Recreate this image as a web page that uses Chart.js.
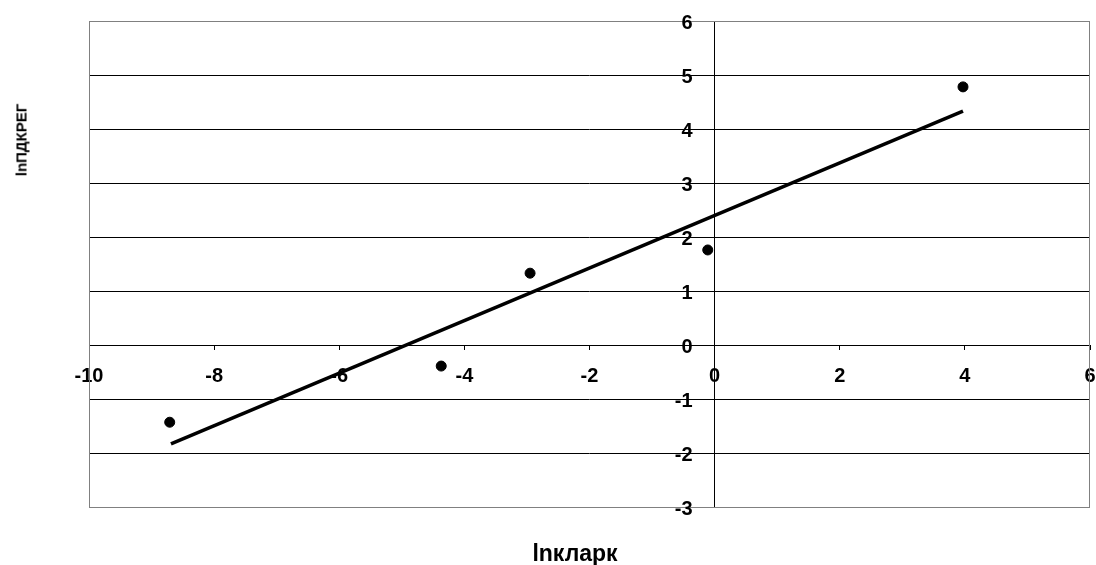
<!DOCTYPE html>
<html>
<head>
<meta charset="utf-8">
<script src="https://cdn.jsdelivr.net/npm/chart.js@4/dist/chart.umd.min.js"></script>
<style>
  body { margin: 0; background: #fff; }
  #wrap { position: relative; width: 1096px; height: 565px; }
  .ttl { position: absolute; font-family: "Liberation Sans", Arial, sans-serif; font-weight: bold; color: #000; white-space: nowrap; line-height: 1; }
  #xTitle { font-size: 23px; left: 575px; top: 553px; transform: translate(-50%, -50%); }
  #yTitle { font-size: 15px; left: 21px; top: 140px; transform: translate(-50%, -50%) rotate(-90deg); }
</style>
</head>
<body>
<div id="wrap">
  <canvas id="scaleChart"></canvas>
  <div class="ttl" id="xTitle">lnкларк</div>
  <div class="ttl" id="yTitle">lnПДКРЕГ</div>
</div>
<script>
// observed points
const xVals = [-8.71, -4.37, -2.95, -0.11, 3.97];
const yVals = [-1.43, -0.39, 1.33, 1.76, 4.78];
// trend line ends
const trendX = [-8.69, 3.97];
const trendY = [-1.83, 4.33];
// axis ticks
const xTicks = [-10, -8, -6, -4, -2, 0, 2, 4, 6];
const yTicks = [-3, -2, -1, 0, 1, 2, 3, 4, 5, 6];

const tickFont = { family: '"Liberation Sans", Arial, sans-serif', size: 20, weight: 'bold' };

// no extra room for overflowing labels
function noPad(s) { s.paddingLeft = 0; s.paddingRight = 0; s.paddingTop = 0; s.paddingBottom = 0; }

// plot area frame + y labels beside the crossing axis
const frame = {
  id: 'frame',
  beforeDatasetsDraw(chart) {
    const a = chart.chartArea, c = chart.ctx;
    c.save();
    c.strokeStyle = '#808080';
    c.lineWidth = 1;
    c.strokeRect(Math.round(a.left) + 0.5, Math.round(a.top) + 0.5,
                 Math.round(a.right - a.left) - 1, Math.round(a.bottom - a.top));
    const ax = chart.scales.x.getPixelForValue(0);
    c.fillStyle = '#000';
    c.font = 'bold ' + tickFont.size + 'px ' + tickFont.family;
    c.textAlign = 'right';
    c.textBaseline = 'middle';
    yTicks.forEach(v => {
      c.fillText(String(v), ax - 22, chart.scales.y.getPixelForValue(v) + 2);
    });
    c.restore();
  }
};

function setupChart() {
  let ctx = document.getElementById('scaleChart');
  return new Chart(ctx, {
    type: 'scatter',
    data: {
      datasets: [{
        label: 'points',
        data: xVals.map((x, i) => ({ x: x, y: yVals[i] })),
        backgroundColor: '#000',
        borderColor: '#000',
        pointRadius: 5,
        order: 1
      }, {
        label: 'trend',
        type: 'line',
        data: trendX.map((x, i) => ({ x: x, y: trendY[i] })),
        borderColor: '#000',
        borderWidth: 3.5,
        pointRadius: 0,
        fill: false,
        order: 2
      }]
    },
    options: {
      responsive: true,
      maintainAspectRatio: false,
      animation: { duration: 0 },
      layout: { padding: { left: 89, right: 2, top: 21, bottom: 58 } },
      plugins: { legend: { display: false }, tooltip: { enabled: false } },
      scales: {
        x: {
          type: 'linear',
          position: { y: 0 },
          min: xTicks[0], max: xTicks[xTicks.length - 1],
          afterBuildTicks: s => { s.ticks = xTicks.map(v => ({ value: v })); },
          afterFit: noPad,
          grid: { drawOnChartArea: false, drawTicks: true, tickLength: 5, color: '#000' },
          border: { display: false },
          ticks: { font: tickFont, color: '#000', padding: 14, maxRotation: 0 }
        },
        y: {
          type: 'linear',
          position: { x: 0 },
          min: yTicks[0], max: yTicks[yTicks.length - 1],
          afterBuildTicks: s => { s.ticks = yTicks.map(v => ({ value: v })); },
          afterFit: noPad,
          grid: { color: '#000', drawTicks: false },
          border: { display: true, color: '#000', width: 1 },
          ticks: { display: false }
        }
      }
    },
    plugins: [frame]
  });
}

setupChart();
</script>
</body>
</html>
